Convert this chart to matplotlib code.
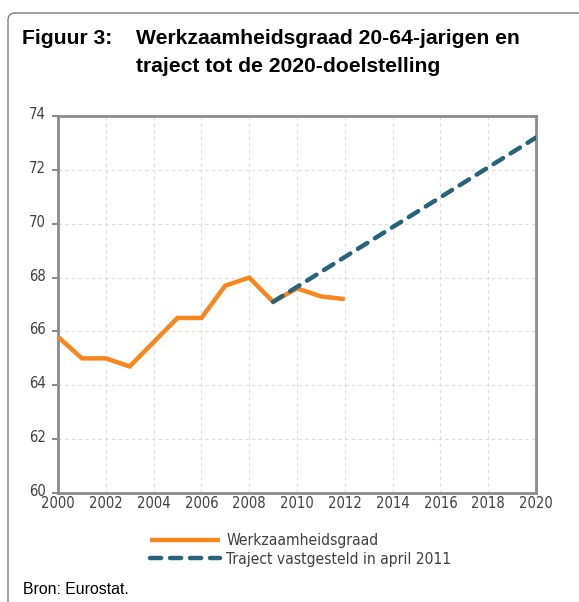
import matplotlib
matplotlib.use("Agg")
import matplotlib.pyplot as plt
import matplotlib.transforms as mtransforms
from matplotlib.patches import FancyBboxPatch

years = [2000, 2001, 2002, 2003, 2004, 2005, 2006, 2007, 2008, 2009, 2010, 2011, 2012]
werkzaamheidsgraad = [65.8, 65.0, 65.0, 64.7, 65.6, 66.5, 66.5, 67.7, 68.0, 67.1, 67.6, 67.3, 67.2]
traject_years = [2009, 2020]
traject_values = [67.1, 73.2]
xticks = list(range(2000, 2021, 2))
yticks = list(range(60, 75, 2))

W, H = 579, 602
fig = plt.figure(figsize=(W / 100, H / 100), dpi=100)

# frame
frame = FancyBboxPatch((8 / W, 1 - 13 / H - 1.0), (640 - 8) / W, 1.0,
                       boxstyle="round,pad=0,rounding_size=0.012",
                       transform=fig.transFigure, fill=False,
                       edgecolor="#7f7f7f", linewidth=1.0, clip_on=True)
fig.patches.append(frame)

tfont = dict(fontsize=15.2, fontweight="bold", family="Liberation Sans", va="center", ha="left")
fig.text(22 / W, 1 - 39 / H, "Figuur 3:", **tfont)
fig.text(136 / W, 1 - 39 / H, "Werkzaamheidsgraad 20-64-jarigen en", **tfont)
fig.text(136 / W, 1 - 67 / H, "traject tot de 2020-doelstelling", **tfont)
fig.text(23 / W, 1 - 589 / H, "Bron: Eurostat.", fontsize=11.4,
         family="Liberation Sans", va="center", ha="left")

ax = fig.add_axes([58 / W, 1 - 493 / H, (536 - 58) / W, (493 - 116) / H])
ax.plot(years, werkzaamheidsgraad, color="#f7861d", linewidth=3.2,
        solid_capstyle="butt", solid_joinstyle="miter", label="Werkzaamheidsgraad", zorder=3)
ax.plot(traject_years, traject_values, color="#28637a", linewidth=3.2,
        linestyle=(0, (2.5, 2.0)), dash_capstyle="round",
        label="Traject vastgesteld in april 2011", zorder=4)

ax.set_xlim(2000, 2020)
ax.set_ylim(60, 74)
ax.set_xticks(xticks)
ax.set_yticks(yticks)
ax.grid(True, color="#dcdcdc", linestyle=(0, (3, 3)), linewidth=0.8)
ax.set_axisbelow(True)
for s in ax.spines.values():
    s.set_color("#8c8c8c")
    s.set_linewidth(2.0)
ax.tick_params(axis="y", length=4.5, width=1.5, color="#8c8c8c", pad=4,
               labelsize=10.6, labelcolor="#404040")
ax.tick_params(axis="x", length=0, pad=2, labelsize=10.6, labelcolor="#404040")
off = mtransforms.ScaledTranslation(0, 3 / 100, fig.dpi_scale_trans)
for lbl in ax.get_yticklabels():
    lbl.set_fontstretch("condensed")
    lbl.set_transform(lbl.get_transform() + off)
for lbl in ax.get_xticklabels():
    lbl.set_fontstretch("condensed")

leg = fig.legend(loc="upper left", bbox_to_anchor=(150 / W, 1 - 533 / H), frameon=False,
                 fontsize=11.2, handlelength=4.5, handletextpad=0.4, labelspacing=0.25,
                 labelcolor="#404040", borderpad=0, borderaxespad=0)
for t in leg.get_texts():
    t.set_fontstretch("condensed")

fig.savefig("out.png", dpi=100)
